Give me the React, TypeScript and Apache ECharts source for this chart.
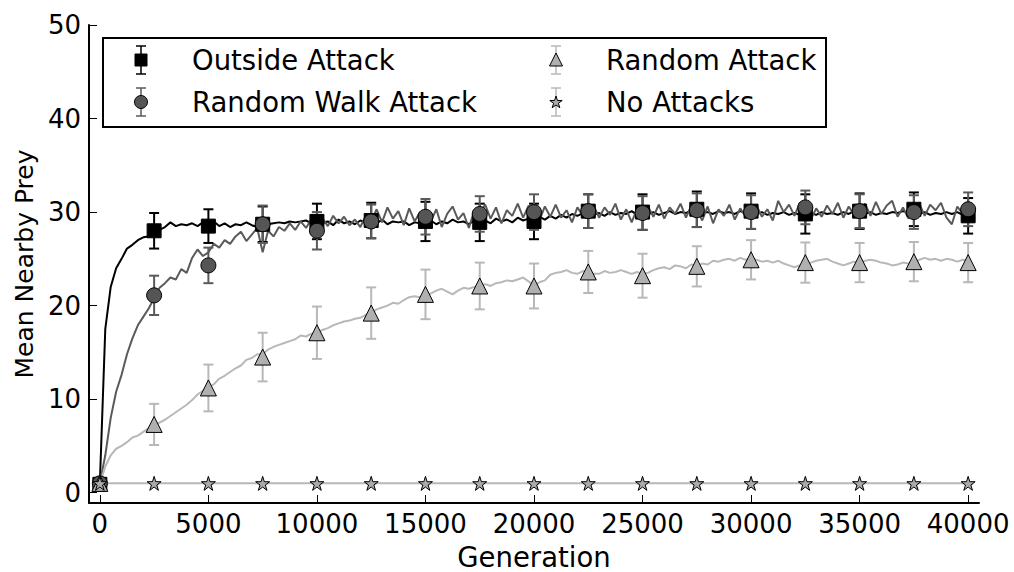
import React, { useEffect, useRef } from 'react';
import * as echarts from 'echarts';

// ---------- DATA ----------
const MARKER_GENS = [0, 2500, 5000, 7500, 10000, 12500, 15000, 17500, 20000, 22500, 25000, 27500, 30000, 32500, 35000, 37500, 40000];
const X_TICKS = [0, 5000, 10000, 15000, 20000, 25000, 30000, 35000, 40000];
const Y_TICKS = [0, 10, 20, 30, 40, 50];

const OUTSIDE_MEAN = [0.9, 28.0, 28.5, 28.7, 29.0, 29.1, 29.0, 28.9, 29.0, 30.1, 30.0, 30.3, 30.1, 29.8, 30.1, 30.3, 29.6];
const OUTSIDE_ERR = [0.1, 1.9, 1.8, 1.9, 1.9, 1.9, 2.1, 2.0, 1.9, 1.8, 1.9, 1.9, 1.9, 2.1, 1.9, 1.8, 1.9];
const RW_MEAN = [1.0, 21.1, 24.3, 28.7, 28.0, 29.0, 29.5, 29.8, 30.0, 30.1, 29.9, 30.2, 30.0, 30.5, 30.1, 30.0, 30.3];
const RW_ERR = [0.1, 2.1, 1.9, 2.0, 2.0, 1.8, 1.9, 1.9, 1.9, 1.8, 1.8, 1.8, 1.8, 1.8, 1.8, 1.8, 1.8];
const RA_MEAN = [1.0, 7.3, 11.2, 14.5, 17.1, 19.2, 21.2, 22.1, 22.1, 23.6, 23.2, 24.2, 24.9, 24.6, 24.6, 24.7, 24.6];
const RA_ERR = [0.1, 2.2, 2.5, 2.6, 2.8, 2.75, 2.65, 2.5, 2.4, 2.25, 2.35, 2.15, 2.1, 2.15, 2.1, 2.1, 2.1];
const NA_MEAN = [1.0, 1.0, 1.0, 1.0, 1.0, 1.0, 1.0, 1.0, 1.0, 1.0, 1.0, 1.0, 1.0, 1.0, 1.0, 1.0, 1.0];
const NA_ERR = [0.05, 0.05, 0.05, 0.05, 0.05, 0.05, 0.05, 0.05, 0.05, 0.05, 0.05, 0.05, 0.05, 0.05, 0.05, 0.05, 0.05];

// per-generation traces, one value every LINE_STEP generations
const LINE_STEP = 250;
const OUTSIDE_LINE = [
  1.0, 17.5, 22.0, 24.0, 25.0, 26.1, 26.5, 27.0, 27.3, 27.4,
  28.0, 28.1, 28.4, 28.9, 28.5, 28.7, 28.6, 28.8, 28.5, 28.9,
  28.6, 29.0, 28.5, 28.8, 28.4, 28.7, 28.6, 28.9, 28.6, 28.4,
  28.7, 28.7, 28.8, 28.9, 28.8, 29.0, 28.9, 29.0, 29.1, 28.8,
  29.1, 28.8, 29.0, 28.6, 29.2, 28.8, 29.0, 28.7, 29.1, 28.9,
  29.0, 28.8, 29.2, 28.7, 29.0, 28.9, 29.0, 28.6, 28.9, 28.8,
  28.9, 29.1, 28.7, 29.0, 28.8, 29.2, 28.9, 29.0, 28.7, 29.1,
  28.9, 29.1, 28.8, 29.3, 29.0, 29.2, 28.9, 29.4, 29.1, 29.3,
  29.0, 29.5, 29.2, 29.6, 29.3, 29.7, 29.4, 29.8, 29.6, 29.9,
  30.0, 29.7, 29.9, 29.6, 30.0, 29.7, 29.9, 29.8, 30.1, 29.7,
  29.9, 29.8, 30.0, 29.7, 29.9, 30.1, 29.8, 30.0, 29.9, 30.2,
  30.1, 29.9, 30.0, 29.8, 30.1, 29.9, 30.0, 29.8, 30.1, 29.9,
  30.0, 29.8, 30.0, 29.7, 29.9, 29.8, 30.0, 29.7, 29.9, 29.7,
  29.8, 29.9, 29.7, 30.0, 29.8, 29.9, 29.7, 30.0, 29.8, 30.1,
  29.9, 29.8, 30.0, 29.7, 29.9, 29.8, 30.0, 29.9, 30.1, 29.9,
  30.0, 29.8, 30.0, 29.7, 29.9, 29.8, 30.0, 29.8, 30.0, 29.7,
  29.8,
];
const RW_LINE = [
  1.0, 4.0, 8.0, 10.8, 12.6, 14.8, 16.5, 17.9, 18.8, 19.7,
  20.8, 21.9, 22.4, 23.0, 22.8, 23.9, 23.5, 25.1, 26.0, 25.3,
  25.7, 26.6, 26.2, 27.0, 26.6, 27.4, 27.9, 26.9, 27.6, 28.3,
  25.7, 28.0, 27.4, 28.4, 28.0, 28.8, 28.1, 29.0, 28.3, 29.3,
  28.6, 29.4, 28.5, 29.6, 28.8, 29.5, 28.6, 29.2, 28.4, 29.6,
  29.0, 30.3, 28.9, 30.5, 29.3, 30.1, 28.6, 30.4, 29.0, 30.0,
  29.5, 29.0, 30.3, 28.4, 29.8, 30.6, 29.2, 29.9, 28.3, 30.2,
  29.8, 30.8, 29.3, 30.5, 28.8, 30.2, 29.6, 30.9, 29.4, 30.7,
  30.0, 29.1, 30.6, 29.5, 30.8, 29.4, 30.2, 28.9, 30.5, 29.6,
  30.1, 30.7, 29.4, 30.5, 29.7, 30.9, 29.2, 30.3, 28.9, 30.4,
  29.9, 30.6, 29.5, 30.8, 29.3, 30.5, 29.8, 30.9, 29.4, 30.7,
  30.2, 29.1, 30.6, 28.8, 30.3, 29.6, 30.8, 29.2, 30.4, 29.5,
  30.0, 30.7, 29.5, 30.3, 29.1, 31.2, 30.0, 30.8, 29.6, 31.0,
  30.5, 29.2, 30.4, 29.5, 30.7, 29.8, 31.0, 29.4, 30.6, 29.7,
  30.1, 30.9, 29.6, 31.1, 29.8, 30.7, 31.2, 29.5, 30.5, 29.3,
  30.0, 30.9, 29.6, 30.8, 30.2, 31.0, 29.4, 28.7, 30.6, 29.8,
  30.3,
];
const RA_LINE = [
  1.0, 2.8, 4.0, 4.7, 5.0, 5.4, 5.9, 6.1, 6.5, 6.9,
  7.2, 7.5, 7.8, 8.2, 8.6, 9.0, 9.4, 9.9, 10.5, 10.9,
  11.2, 11.6, 12.2, 12.5, 12.9, 13.3, 13.6, 14.2, 14.4, 14.8,
  14.8, 15.3, 15.6, 15.8, 16.0, 16.2, 16.4, 16.8, 16.7, 17.0,
  17.1, 17.4, 17.6, 17.9, 18.1, 18.3, 18.4, 18.6, 18.7, 19.0,
  19.2, 19.6, 19.8, 20.0, 20.3, 20.2, 20.6, 20.9, 21.0, 20.9,
  21.0, 21.3, 21.6, 21.8, 21.5, 21.2, 21.6, 21.9, 21.8, 22.0,
  22.1, 22.3, 22.1, 22.4, 22.5, 22.7, 22.6, 22.8, 23.0, 22.6,
  22.1, 22.5, 22.7, 23.3, 23.5, 23.6, 23.8, 23.5, 23.4, 23.7,
  23.6, 23.4, 23.4, 23.7, 23.5, 23.6, 23.8, 23.6, 23.4, 23.6,
  23.4, 23.5, 23.8, 24.0, 24.1, 23.9, 24.3, 24.2, 24.0, 24.4,
  24.2, 24.5, 24.4, 24.8, 24.7, 24.9, 25.0, 24.8, 25.1, 24.9,
  25.0, 24.9, 24.7, 24.8, 24.6, 24.8, 24.5, 24.3, 24.1, 24.3,
  24.4, 24.6, 24.8, 24.9, 25.0, 24.7, 24.5, 24.3, 24.5, 24.7,
  24.6, 24.8, 24.9, 24.8, 24.6, 24.5, 24.3, 24.4, 24.6, 24.5,
  24.6, 24.9, 25.1, 24.9, 25.0, 24.8, 25.0, 24.9, 24.7, 24.9,
  24.8,
];

const LEGEND_NAMES = ['Outside Attack', 'Random Walk Attack', 'Random Attack', 'No Attacks'];

// ---------- STYLE ----------
const FONT = '"DejaVu Sans", "Liberation Sans", sans-serif';
const FS = 26;
const FS_BIG = 27.5;
const C_BLACK = '#000000';
const C_RW_LINE = '#5a5a5a';
const C_RW_FILL = '#555555';
const C_RA_LINE = '#b8b8b8';
const C_RA_FILL = '#b0b0b0';
const C_NA_FILL = '#aaaaaa';
const STAR_PATH =
  'path://M0,-1L0.2245,-0.309L0.951,-0.309L0.363,0.118L0.588,0.809L0,0.382L-0.588,0.809L-0.363,0.118L-0.951,-0.309L-0.2245,-0.309Z';

const toLine = (arr: number[]) => arr.map((v, i) => [i * LINE_STEP, v]);
const toPts = (means: number[]) => MARKER_GENS.map((g, i) => [g, means[i]]);
const toErr = (means: number[], errs: number[]) =>
  MARKER_GENS.map((g, i) => [g, means[i] - errs[i], means[i] + errs[i]]);

function errSeries(means: number[], errs: number[], color: string) {
  return {
    type: 'custom',
    z: 3,
    silent: true,
    data: toErr(means, errs),
    encode: { x: 0, y: [1, 2] },
    renderItem: (params: any, api: any) => {
      const x = api.value(0);
      const lo = api.coord([x, api.value(1)]);
      const hi = api.coord([x, api.value(2)]);
      const hw = 5;
      const st = { stroke: color, lineWidth: 2 };
      return {
        type: 'group',
        children: [
          { type: 'line', shape: { x1: hi[0], y1: hi[1], x2: lo[0], y2: lo[1] }, style: st },
          { type: 'line', shape: { x1: hi[0] - hw, y1: hi[1], x2: hi[0] + hw, y2: hi[1] }, style: st },
          { type: 'line', shape: { x1: lo[0] - hw, y1: lo[1], x2: lo[0] + hw, y2: lo[1] }, style: st },
        ],
      };
    },
  };
}

function markerSeries(means: number[], symbol: string, size: number, fill: string) {
  return {
    type: 'scatter',
    z: 3,
    silent: true,
    symbol,
    symbolSize: size,
    data: toPts(means),
    itemStyle: { color: fill, borderColor: '#000', borderWidth: 1, opacity: 1 },
  };
}

function lineSeries(data: number[][], color: string) {
  return {
    type: 'line',
    z: 2,
    silent: true,
    showSymbol: false,
    symbol: 'none',
    data,
    lineStyle: { color, width: 2 },
  };
}

// ---------- LEGEND (graphic) ----------
function legendErr(cx: number, cy: number, color: string) {
  const st = { stroke: color, lineWidth: 1.5 };
  return [
    { type: 'line', shape: { x1: cx, y1: cy - 14, x2: cx, y2: cy + 14 }, style: st },
    { type: 'line', shape: { x1: cx - 5, y1: cy - 14, x2: cx + 5, y2: cy - 14 }, style: st },
    { type: 'line', shape: { x1: cx - 5, y1: cy + 14, x2: cx + 5, y2: cy + 14 }, style: st },
  ];
}
function starPoints(cx: number, cy: number, r: number) {
  const pts: number[][] = [];
  for (let k = 0; k < 10; k++) {
    const a = -Math.PI / 2 + (k * Math.PI) / 5;
    const rr = k % 2 === 0 ? r : r * 0.382;
    pts.push([cx + rr * Math.cos(a), cy + rr * Math.sin(a)]);
  }
  return pts;
}

function buildLegend() {
  const row1 = 60;
  const row2 = 102;
  const mx1 = 141;
  const mx2 = 556;
  const tx1 = 192;
  const tx2 = 606;
  const textStyle = (t: string) => ({ text: t, fontSize: FS_BIG, fontFamily: FONT, fill: '#000', align: 'left', verticalAlign: 'middle' });
  const els: any[] = [
    { type: 'rect', shape: { x: 103, y: 38, width: 723, height: 89 }, style: { fill: '#fff', stroke: '#000', lineWidth: 2 } },
    ...legendErr(mx1, row1, C_BLACK),
    { type: 'rect', shape: { x: mx1 - 6, y: row1 - 6, width: 12, height: 12 }, style: { fill: '#000', stroke: '#000', lineWidth: 1 } },
    { type: 'text', x: tx1, y: row1, style: textStyle(LEGEND_NAMES[0]) },
    ...legendErr(mx1, row2, C_RW_LINE),
    { type: 'circle', shape: { cx: mx1, cy: row2, r: 6.5 }, style: { fill: C_RW_FILL, stroke: '#000', lineWidth: 1 } },
    { type: 'text', x: tx1, y: row2, style: textStyle(LEGEND_NAMES[1]) },
    ...legendErr(mx2, row1, C_RA_LINE),
    { type: 'polygon', shape: { points: [[mx2, row1 - 7], [mx2 + 6.5, row1 + 6], [mx2 - 6.5, row1 + 6]] }, style: { fill: C_RA_FILL, stroke: '#000', lineWidth: 1 } },
    { type: 'text', x: tx2, y: row1, style: textStyle(LEGEND_NAMES[2]) },
    ...legendErr(mx2, row2, C_RA_LINE),
    { type: 'polygon', shape: { points: starPoints(mx2, row2 + 0.5, 6.5) }, style: { fill: C_NA_FILL, stroke: '#000', lineWidth: 1 } },
    { type: 'text', x: tx2, y: row2, style: textStyle(LEGEND_NAMES[3]) },
  ];
  return [{ type: 'group', z: 100, children: els }];
}

export default function App() {
  const ref = useRef<HTMLDivElement>(null);
  useEffect(() => {
    document.body.style.margin = '0';
    const chart = echarts.init(ref.current as HTMLDivElement, null, { renderer: 'svg' });
    const axisLabel = { color: '#000', fontSize: FS, fontFamily: FONT, margin: 8 };
    chart.setOption({
      animation: false,
      backgroundColor: '#fff',
      grid: { left: 89, right: 35, top: 25, bottom: 69, outerBoundsMode: 'none', containLabel: false },
      xAxis: {
        type: 'value',
        min: -500,
        max: 40500,
        name: 'Generation',
        nameLocation: 'middle',
        nameGap: 36,
        nameTextStyle: { color: '#000', fontSize: FS_BIG, fontFamily: FONT, lineHeight: 30 },
        splitLine: { show: false },
        axisLine: { onZero: false, lineStyle: { color: '#000', width: 2 } },
        axisTick: { inside: true, length: 8, customValues: X_TICKS, lineStyle: { color: '#000', width: 1 } },
        axisLabel: { ...axisLabel, customValues: X_TICKS, formatter: (v: number) => String(v) },
      },
      yAxis: {
        type: 'value',
        min: -1.1,
        max: 50,
        name: 'Mean Nearby Prey',
        nameLocation: 'middle',
        nameRotate: 90,
        nameGap: 47,
        nameTextStyle: { color: '#000', fontSize: 25, fontFamily: FONT },
        splitLine: { show: false },
        axisLine: { onZero: false, lineStyle: { color: '#000', width: 2 } },
        axisTick: { inside: true, length: 8, customValues: Y_TICKS, lineStyle: { color: '#000', width: 1 } },
        axisLabel: { ...axisLabel, customValues: Y_TICKS, formatter: (v: number) => String(v) },
      },
      series: [
        lineSeries(toLine(OUTSIDE_LINE), C_BLACK),
        lineSeries(toLine(RW_LINE), C_RW_LINE),
        lineSeries(toLine(RA_LINE), C_RA_LINE),
        lineSeries(toPts(NA_MEAN), C_RA_LINE),
        errSeries(OUTSIDE_MEAN, OUTSIDE_ERR, C_BLACK),
        markerSeries(OUTSIDE_MEAN, 'rect', 14, '#000'),
        errSeries(RW_MEAN, RW_ERR, C_RW_LINE),
        markerSeries(RW_MEAN, 'circle', 15, C_RW_FILL),
        errSeries(RA_MEAN, RA_ERR, C_RA_LINE),
        markerSeries(RA_MEAN, 'triangle', 16, C_RA_FILL),
        errSeries(NA_MEAN, NA_ERR, C_RA_LINE),
        markerSeries(NA_MEAN, STAR_PATH, 14, C_NA_FILL),
      ],
      graphic: buildLegend(),
    });
    return () => chart.dispose();
  }, []);
  return <div ref={ref} style={{ width: 1014, height: 572 }} />;
}
